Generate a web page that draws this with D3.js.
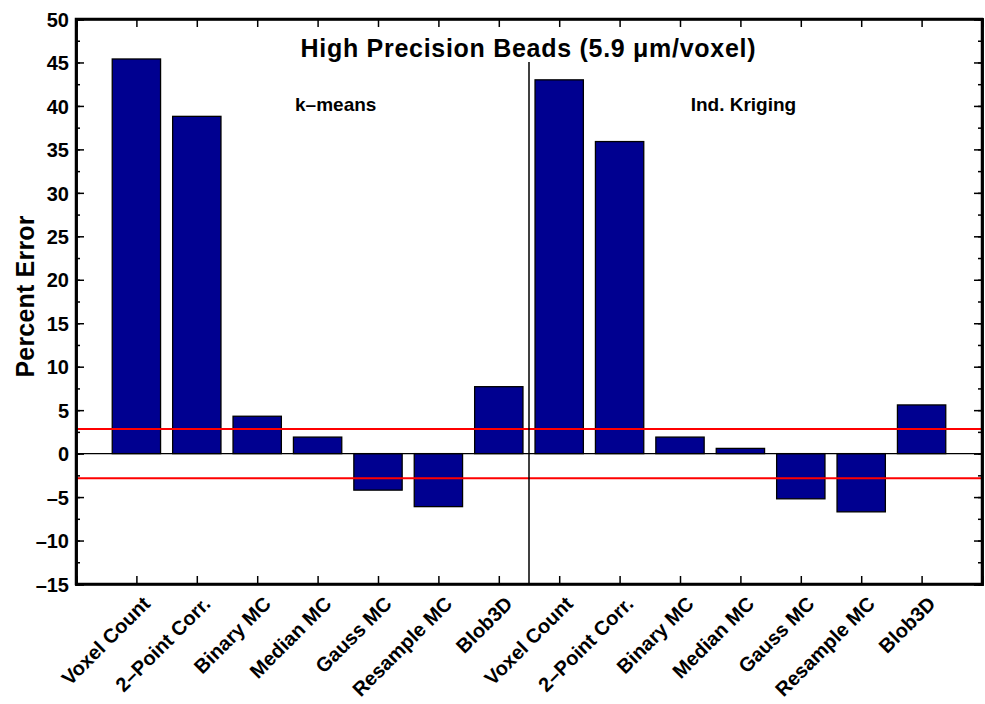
<!DOCTYPE html>
<html>
<head>
<meta charset="utf-8">
<style>
  body { margin: 0; background: #fff; }
  svg { display: block; }
  text { font-family: "Liberation Sans", Arial, Helvetica, sans-serif; font-weight: bold; fill: #000; }
</style>
</head>
<body>
<svg id="chart" width="985" height="704"></svg>
<script src="https://d3js.org/d3.v7.min.js"></script>
<script>

var methods = ["Voxel Count", "2\u2013Point Corr.", "Binary MC", "Median MC", "Gauss MC", "Resample MC", "Blob3D"]
var groups = ["k\u2013means", "Ind. Kriging"]
var kmeansValues = [45.4, 38.8, 4.3, 1.9, -4.2, -6.1, 7.7]
var krigingValues = [43.0, 35.9, 1.9, 0.6, -5.2, -6.7, 5.6]
var tolerance = [2.83, -2.83]
var yTicks = [-15, -10, -5, 0, 5, 10, 15, 20, 25, 30, 35, 40, 45, 50]
var title = "High Precision Beads (5.9 \u03bcm/voxel)"

var categories = methods.concat(methods)
var values = kmeansValues.concat(krigingValues)
var data = values.map((v, i) => ({ pos: i + 1, name: categories[i], value: v }))

var svg = d3.select("#chart"),
    margin = {top: 19, right: 3, bottom: 120, left: 76},
    width = +svg.attr("width") - margin.left - margin.right,
    height = +svg.attr("height") - margin.top - margin.bottom,
    g = svg.append("g").attr("transform", "translate(" + margin.left + "," + margin.top + ")");

var x = d3.scaleLinear().domain([0, categories.length + 1]).range([0, width])
var y = d3.scaleLinear().domain([-15, 50]).range([height, 0])
var barWidth = (x(1) - x(0)) * 0.8

// bars
g.selectAll("rect.bar")
  .data(data)
  .enter().append("rect")
  .attr("class", "bar")
  .attr("x", d => x(d.pos) - barWidth / 2)
  .attr("width", barWidth)
  .attr("y", d => y(Math.max(0, d.value)))
  .attr("height", d => Math.abs(y(d.value) - y(0)))
  .attr("fill", "#000090")
  .attr("stroke", "#000")
  .attr("stroke-width", 1.3)

// zero line
g.append("line")
  .attr("x1", 0).attr("x2", width)
  .attr("y1", y(0)).attr("y2", y(0))
  .attr("stroke", "#000").attr("stroke-width", 1.3)

// tolerance lines
g.selectAll("line.tol")
  .data(tolerance)
  .enter().append("line")
  .attr("class", "tol")
  .attr("x1", 0).attr("x2", width)
  .attr("y1", d => y(d)).attr("y2", d => y(d))
  .attr("stroke", "#ff0000").attr("stroke-width", 2)

// divider between the two groups
g.append("line")
  .attr("x1", x(methods.length + 0.5)).attr("x2", x(methods.length + 0.5))
  .attr("y1", 43).attr("y2", height)
  .attr("stroke", "#000").attr("stroke-width", 1.5)

// axes, ticks inward
var minorTicks = d3.range(-15, 50.1, 2.5)

g.append("g")
  .call(d3.axisLeft(y).tickValues(minorTicks).tickSize(-4).tickFormat(""))
g.append("g")
  .attr("transform", "translate(" + width + ",0)")
  .call(d3.axisRight(y).tickValues(minorTicks).tickSize(-4).tickFormat(""))

var yAxis = g.append("g")
  .attr("class", "y axis")
  .call(d3.axisLeft(y).tickValues(yTicks).tickSize(-8).tickPadding(7)
    .tickFormat(d => d < 0 ? "\u2013" + Math.abs(d) : d))
yAxis.selectAll("text").style("font-size", "20px").attr("dy", "0.36em")

g.append("g")
  .attr("transform", "translate(" + width + ",0)")
  .call(d3.axisRight(y).tickValues(yTicks).tickSize(-8).tickFormat(""))

var xPositions = data.map(d => d.pos)
g.append("g")
  .attr("transform", "translate(0," + height + ")")
  .call(d3.axisBottom(x).tickValues(xPositions).tickSize(-8).tickFormat(""))
g.append("g")
  .call(d3.axisTop(x).tickValues(xPositions).tickSize(-8).tickFormat(""))

g.selectAll(".domain").attr("stroke", "#000").attr("stroke-width", 2.5)
g.selectAll(".tick line").attr("stroke", "#000").attr("stroke-width", 1.5)

// box
g.append("rect")
  .attr("width", width).attr("height", height)
  .attr("fill", "none").attr("stroke", "#000").attr("stroke-width", 2.5)

// category labels
g.selectAll("text.xlab")
  .data(data)
  .enter().append("text")
  .attr("class", "xlab")
  .attr("text-anchor", "end")
  .attr("transform", d => "translate(" + (x(d.pos) + 15) + "," + (height + 21) + ") rotate(-45)")
  .style("font-size", "20px")
  .text(d => d.name)

// title and group labels
g.append("text")
  .attr("x", x(methods.length + 0.5) - 1).attr("y", 38)
  .attr("text-anchor", "middle")
  .attr("textLength", 455)
  .attr("lengthAdjust", "spacing")
  .style("font-size", "25px")
  .text(title)

g.selectAll("text.group")
  .data(groups)
  .enter().append("text")
  .attr("class", "group")
  .attr("x", (d, i) => i === 0 ? x(4.3) : x(11.05))
  .attr("y", 92)
  .attr("text-anchor", "middle")
  .style("font-size", "19px")
  .text(d => d)

svg.append("text")
  .attr("transform", "translate(34," + (margin.top + height / 2 - 5) + ") rotate(-90)")
  .attr("text-anchor", "middle")
  .attr("textLength", 162)
  .attr("lengthAdjust", "spacing")
  .style("font-size", "25px")
  .text("Percent Error")

</script>
</body>
</html>
